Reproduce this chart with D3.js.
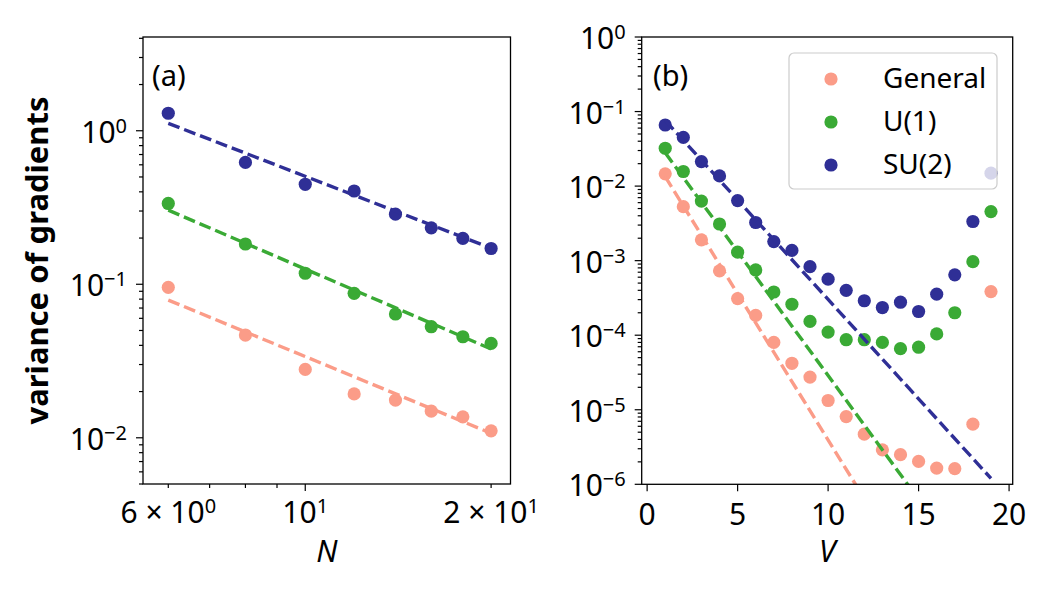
<!DOCTYPE html>
<html lang="en">
<head>
<meta charset="utf-8">
<title>variance of gradients</title>
<script src="https://d3js.org/d3.v7.min.js"></script>
<style>
    html, body { margin: 0; padding: 0; background: #fff; }
    svg { display: block; font-family: "Noto Sans", "DejaVu Sans", sans-serif; }
    .frame { fill: none; stroke: #000; stroke-width: 1.3; }
    .tick { stroke: #000; stroke-width: 1.2; }
    .ticklabel { font-size: 30px; fill: #000; }
</style>
</head>
<body>
<svg id="chart" width="1050" height="600"></svg>
<script>
// panel (a): variance vs N
const nValues = [6, 8, 10, 12, 14, 16, 18, 20];
const aGeneral = [0.0955, 0.0467, 0.0279, 0.0193, 0.0176, 0.0149, 0.0137, 0.0111];
const aU1 = [0.336, 0.183, 0.118, 0.0873, 0.064, 0.0529, 0.0455, 0.0412];
const aSU2 = [1.30, 0.622, 0.448, 0.405, 0.286, 0.233, 0.199, 0.171];
// fitted power laws, value at N=6 and N=20
const aFitN = [6, 20];
const aFitGeneral = [0.0789, 0.0107];
const aFitU1 = [0.304, 0.0379];
const aFitSU2 = [1.117, 0.172];

// panel (b): variance vs V
const vValues = [1, 2, 3, 4, 5, 6, 7, 8, 9, 10, 11, 12, 13, 14, 15, 16, 17, 18, 19];
const bGeneral = [0.0146, 0.0053, 0.0019, 7.3e-4, 3.1e-4, 1.84e-4, 8.0e-5, 4.2e-5, 2.74e-5, 1.33e-5,
                  8.1e-6, 4.7e-6, 2.9e-6, 2.5e-6, 2.03e-6, 1.65e-6, 1.62e-6, 6.4e-6, 3.85e-4];
const bU1 = [0.0322, 0.0157, 0.0063, 0.0031, 1.3e-3, 7.5e-4, 3.8e-4, 2.6e-4, 1.53e-4, 1.1e-4,
             8.7e-5, 8.7e-5, 8.0e-5, 6.6e-5, 6.9e-5, 1.04e-4, 2.0e-4, 9.7e-4, 4.55e-3];
const bSU2 = [0.066, 0.045, 0.0213, 0.0137, 0.0064, 0.00325, 1.8e-3, 1.37e-3, 8.3e-4, 5.65e-4,
              4.0e-4, 2.9e-4, 2.35e-4, 2.77e-4, 2.08e-4, 3.55e-4, 6.45e-4, 3.35e-3, 0.0149];
// fitted exponentials, value at V=1 and V=19
const bFitV = [1, 19];
const bFitGeneral = [0.0134, 1.15e-9];
const bFitU1 = [0.028, 2.95e-8];
const bFitSU2 = [0.076, 1.2e-6];

const seriesNames = ["General", "U(1)", "SU(2)"];
const colors = ["#fb9c88", "#3aaa35", "#2f2f96"];
const yTickExpA = [0, -1, -2];
const yTickExpB = [0, -1, -2, -3, -4, -5, -6];
const xTicksA = [6, 10, 20];
const xTickLabelsA = [["6 × 10", "0"], ["10", "1"], ["2 × 10", "1"]];
const xMinorA = [7, 8, 9];
const xTicksB = [0, 5, 10, 15, 20];

const svg = d3.select("#chart");

const boxA = { left: 143, right: 510.5, top: 37, bottom: 484 };
const boxB = { left: 641.7, right: 1012.7, top: 37, bottom: 484.3 };

const xA = d3.scaleLog().domain([5.46, 21.5]).range([boxA.left, boxA.right]);
const yA = d3.scaleLog().domain([0.005, 4.08]).range([boxA.bottom, boxA.top]);
const xB = d3.scaleLinear().domain([-0.3, 20.2]).range([boxB.left, boxB.right]);
const yB = d3.scaleLog().domain([1e-6, 1]).range([boxB.bottom, boxB.top]);

// clip paths
const defs = svg.append("defs");
[["clipA", boxA], ["clipB", boxB]].forEach(([id, b]) => {
    defs.append("clipPath").attr("id", id).append("rect")
        .attr("x", b.left).attr("y", b.top)
        .attr("width", b.right - b.left).attr("height", b.bottom - b.top);
});

function supLabel(g, x, y, base, exp, anchor) {
    const t = g.append("text").attr("class", "ticklabel")
        .attr("x", x).attr("y", y).attr("text-anchor", anchor);
    t.append("tspan").text(base);
    t.append("tspan").attr("dy", -10).style("font-size", "20px").text(exp);
    return t;
}

function yLogAxis(box, y, exps) {
    const g = svg.append("g");
    const lo = Math.log10(y.domain()[0]), hi = Math.log10(y.domain()[1]);
    for (let e = Math.floor(lo); e <= Math.ceil(hi); e++) {
        for (let k = 2; k <= 9; k++) {
            const v = k * Math.pow(10, e);
            if (v < y.domain()[0] || v > y.domain()[1]) continue;
            g.append("line").attr("class", "tick")
                .attr("x1", box.left - 4).attr("x2", box.left)
                .attr("y1", y(v)).attr("y2", y(v));
        }
    }
    exps.forEach(e => {
        const v = Math.pow(10, e);
        g.append("line").attr("class", "tick")
            .attr("x1", box.left - 7).attr("x2", box.left)
            .attr("y1", y(v)).attr("y2", y(v));
        supLabel(g, box.left - 16, y(v) + 12, "10", e === 0 ? "0" : "\u2212" + (-e), "end");
    });
}

yLogAxis(boxA, yA, yTickExpA);
yLogAxis(boxB, yB, yTickExpB);

// x axis panel (a)
const gxA = svg.append("g");
xMinorA.concat([6, 20]).forEach(v => {
    gxA.append("line").attr("class", "tick")
        .attr("x1", xA(v)).attr("x2", xA(v))
        .attr("y1", boxA.bottom).attr("y2", boxA.bottom + 4);
});
gxA.append("line").attr("class", "tick")
    .attr("x1", xA(10)).attr("x2", xA(10))
    .attr("y1", boxA.bottom).attr("y2", boxA.bottom + 7);
xTicksA.forEach((v, i) => {
    supLabel(gxA, xA(v), 523, xTickLabelsA[i][0], xTickLabelsA[i][1], "middle");
});

// x axis panel (b)
const gxB = svg.append("g");
xTicksB.forEach(v => {
    gxB.append("line").attr("class", "tick")
        .attr("x1", xB(v)).attr("x2", xB(v))
        .attr("y1", boxB.bottom).attr("y2", boxB.bottom + 7);
    gxB.append("text").attr("class", "ticklabel")
        .attr("x", xB(v)).attr("y", 525).attr("text-anchor", "middle").text(v);
});

// axis titles
svg.append("text").attr("x", (boxA.left + boxA.right) / 2).attr("y", 562)
    .attr("text-anchor", "middle").style("font-size", "30px").style("font-style", "italic").text("N");
svg.append("text").attr("x", (boxB.left + boxB.right) / 2).attr("y", 562)
    .attr("text-anchor", "middle").style("font-size", "30px").style("font-style", "italic").text("V");
svg.append("text")
    .attr("transform", `translate(48, ${(boxA.top + boxA.bottom) / 2}) rotate(-90)`)
    .attr("text-anchor", "middle").style("font-size", "31px").style("font-weight", "bold")
    .text("variance of gradients");

// data marks
function drawPanel(clip, x, y, xs, series, fitX, fits) {
    const g = svg.append("g").attr("clip-path", `url(#${clip})`);
    series.forEach((vals, i) => {
        g.selectAll(null).data(vals.map((v, j) => [xs[j], v])).enter()
            .append("circle")
            .attr("cx", d => x(d[0])).attr("cy", d => y(d[1]))
            .attr("r", 6.6).attr("fill", colors[i]);
    });
    const line = d3.line().x(d => x(d[0])).y(d => y(d[1]));
    fits.forEach((vals, i) => {
        g.append("path")
            .datum(vals.map((v, j) => [fitX[j], v]))
            .attr("d", line)
            .attr("fill", "none").attr("stroke", colors[i])
            .attr("stroke-width", 3.4).attr("stroke-dasharray", "12,5");
    });
}

drawPanel("clipA", xA, yA, nValues, [aGeneral, aU1, aSU2], aFitN, [aFitGeneral, aFitU1, aFitSU2]);
drawPanel("clipB", xB, yB, vValues, [bGeneral, bU1, bSU2], bFitV, [bFitGeneral, bFitU1, bFitSU2]);

// frames
[boxA, boxB].forEach(b => {
    svg.append("rect").attr("class", "frame")
        .attr("x", b.left).attr("y", b.top)
        .attr("width", b.right - b.left).attr("height", b.bottom - b.top);
});

// panel labels
svg.append("text").attr("x", 152).attr("y", 86).style("font-size", "29px").text("(a)");
svg.append("text").attr("x", 653).attr("y", 86).style("font-size", "29px").text("(b)");

// legend
const lg = svg.append("g");
lg.append("rect").attr("x", 789).attr("y", 53).attr("width", 208).attr("height", 136)
    .attr("rx", 5).attr("fill", "rgba(255,255,255,0.8)").attr("stroke", "#cccccc").attr("stroke-width", 1.2);
seriesNames.forEach((name, i) => {
    const cy = 79 + i * 43;
    lg.append("circle").attr("cx", 831).attr("cy", cy).attr("r", 6.6).attr("fill", colors[i]);
    lg.append("text").attr("x", 883).attr("y", cy + 9).style("font-size", "28px").text(name);
});
</script>
</body>
</html>
